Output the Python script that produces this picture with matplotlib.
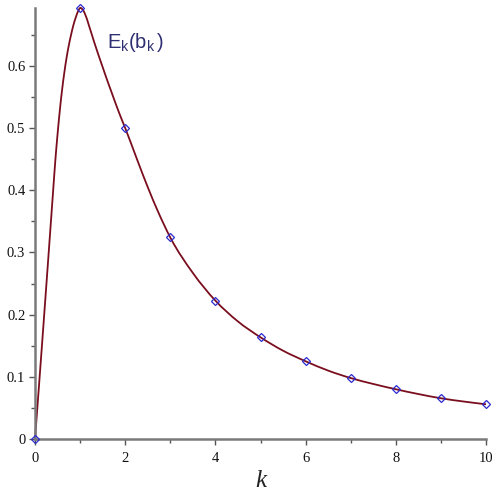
import matplotlib
matplotlib.use("Agg")
import matplotlib.pyplot as plt
from matplotlib.ticker import MultipleLocator
from matplotlib.path import Path
from matplotlib.patches import PathPatch

# curve values
curve_k = [0, 0.1, 0.2, 0.3, 0.4, 0.45, 0.5, 0.55, 0.6, 0.65, 0.7, 0.75, 0.8, 0.85,
           0.9, 0.95, 1.0, 1.05, 1.1, 1.2, 1.3, 1.4, 1.5, 1.6, 1.7, 1.8, 1.9, 2.0,
           2.25, 2.5, 2.75, 3.0, 3.5, 4.0, 4.5, 5.0, 5.5, 6.0, 6.5, 7.0, 7.5, 8.0,
           8.5, 9.0, 9.5, 10.0]
curve_E = [0.0, 0.097, 0.196, 0.296, 0.397, 0.447, 0.490, 0.528, 0.561, 0.589, 0.613,
           0.633, 0.650, 0.665, 0.677, 0.687, 0.693, 0.691, 0.685, 0.664, 0.641, 0.619,
           0.598, 0.577, 0.557, 0.537, 0.518, 0.500, 0.452, 0.405, 0.362, 0.324, 0.267,
           0.2225, 0.189, 0.1635, 0.142, 0.125, 0.110, 0.098, 0.0885, 0.080, 0.0723,
           0.0655, 0.0603, 0.0558]

# marked points at integer k
point_k = [0, 1, 2, 3, 4, 5, 6, 7, 8, 9, 10]
point_E = [0.0, 0.693, 0.500, 0.324, 0.2225, 0.1635, 0.125, 0.098, 0.080, 0.0655, 0.0558]

x_ticks = [0, 2, 4, 6, 8, 10]
y_ticks = [0, 0.1, 0.2, 0.3, 0.4, 0.5, 0.6]

plt.rcParams['mathtext.fontset'] = 'custom'
plt.rcParams['mathtext.rm'] = 'Liberation Sans'
plt.rcParams['mathtext.it'] = 'Liberation Sans:italic'

fig = plt.figure(figsize=(5, 5), dpi=100)
ax = fig.add_axes([0.07, 0.122, 0.902, 0.862])


def smooth_path(xs, ys):
    """Smooth line through the read points, drawn as Bezier segments."""
    n = len(xs)
    h = [xs[i + 1] - xs[i] for i in range(n - 1)]
    d = [(ys[i + 1] - ys[i]) / h[i] for i in range(n - 1)]
    m = [d[0]]
    for i in range(1, n - 1):
        m.append((d[i - 1] * h[i] + d[i] * h[i - 1]) / (h[i - 1] + h[i]))
    m.append(d[-1])
    verts = [(xs[0], ys[0])]
    codes = [Path.MOVETO]
    for i in range(n - 1):
        verts += [(xs[i] + h[i] / 3, ys[i] + m[i] * h[i] / 3),
                  (xs[i + 1] - h[i] / 3, ys[i + 1] - m[i + 1] * h[i] / 3),
                  (xs[i + 1], ys[i + 1])]
        codes += [Path.CURVE4] * 3
    return Path(verts, codes)


ax.add_patch(PathPatch(smooth_path(curve_k, curve_E), facecolor='none',
                       edgecolor='#7a0e1e', lw=1.3, clip_on=False, zorder=2))
ax.plot(point_k, point_E, linestyle='none', marker='D', ms=4.2, mfc='none',
        mec='#2a2ad0', mew=0.9, clip_on=False, zorder=3)

ax.set_xlim(0, 10)
ax.set_ylim(0, 0.693)

for s in ['top', 'right']:
    ax.spines[s].set_visible(False)
for s in ['left', 'bottom']:
    ax.spines[s].set_color('#7a7a7a')
    ax.spines[s].set_linewidth(1.8)

ax.set_xticks(x_ticks)
ax.set_xticklabels([str(v) for v in x_ticks])
ax.set_yticks(y_ticks)
ax.set_yticklabels(['0'] + ['%.1f' % v for v in y_ticks[1:]])
ax.xaxis.set_minor_locator(MultipleLocator(1))
ax.yaxis.set_minor_locator(MultipleLocator(0.05))
ax.tick_params(which='both', direction='out', color='#555555', width=1.0,
               labelsize=10.5, labelcolor='#111111')
ax.tick_params(axis='x', pad=5)
ax.tick_params(axis='y', pad=3)
ax.tick_params(which='major', length=4)
ax.tick_params(which='minor', length=3)
for lab in ax.get_xticklabels() + ax.get_yticklabels():
    lab.set_family('Liberation Serif')

ax.set_xlabel('k', family='Liberation Serif', style='italic', fontsize=18,
              color='#222222', labelpad=4)

ax.text(1.59, 0.628, r'$\mathrm{E_k(b_k\,)}$', fontsize=14.5, color='#2e2e72')

fig.savefig('out.png', dpi=100)
